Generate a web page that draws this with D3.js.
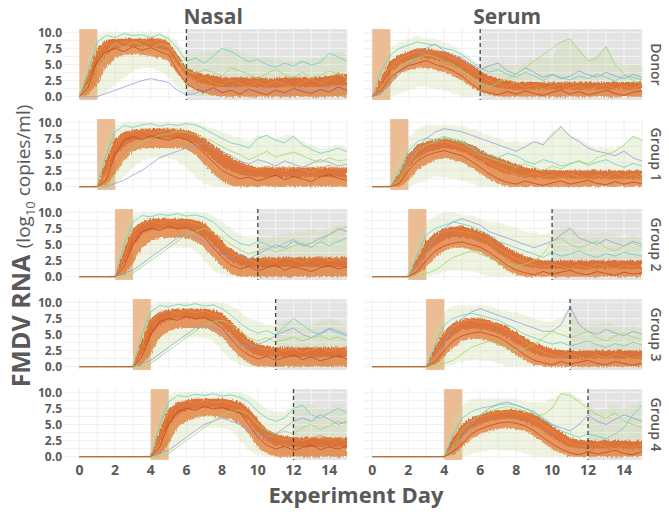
<!DOCTYPE html>
<html>
<head>
<meta charset="utf-8">
<script src="https://cdn.jsdelivr.net/npm/d3@7"></script>
<style>
  body { margin: 0; background: #fff; }
  text { font-family: "Open Sans", "DejaVu Sans", sans-serif; fill: #595959; }
</style>
</head>
<body>
<svg id="chart" width="669" height="512"></svg>
<script>
var samples = ["Nasal", "Serum"];
var groups = ["Donor", "Group 1", "Group 2", "Group 3", "Group 4"];
var onsetDay = [0, 1, 2, 3, 4];
var cutoffDay = [6, null, 10, 11, 12];
var xTicks = [0, 2, 4, 6, 8, 10, 12, 14];
var yTicks = [0, 2.5, 5, 7.5, 10];
var days = [0, 0.5, 1, 1.5, 2, 2.5, 3, 3.5, 4, 4.5, 5, 5.5, 6, 6.5, 7, 7.5, 8, 8.5, 9, 9.5, 10, 10.5, 11, 11.5, 12, 12.5, 13, 13.5, 14, 14.5, 15];

// outer spread of the trajectories (upper / lower edge), one row per group
var nasalHi = [
	[0.5,6,9.5,10,10,10,10,10,10,10,9.5,8.5,6.5,6.5,7,7,7.5,7.8,7,6.5,6,6,6,5.5,5.5,5.5,6,6,6.5,7,6.5],
	[0,0,0.5,8,9.5,10,10,10,10,10,10,10,10,10,9.5,9,8.5,8,7.5,7,8,8,7.5,8,8,7,6.5,6,6,6.5,6],
	[0,0,0,0,0.5,7,9.5,10,10,10,10,10,10,10,10,9.5,8.5,7.5,6.5,6,6,6,6.5,6.5,7,7,7.5,7,7.5,8,8],
	[0,0,0,0,0,0,0.5,7,9.5,10,10,10,10,10,10,10,10,9.5,8.5,7.5,7,6.5,6.5,7,7,6.5,6.5,7,7.5,7,6.5],
	[0,0,0,0,0,0,0,0,0.5,7,9.5,10,10,10,10,10,10,10,10,9.5,8.5,7.5,7,7,7.5,8,8,7.5,7.5,8,7.5]
];
var nasalLo = [
	[0,0,0,0.5,2,3,4,4.5,4.5,4,3,1.5,0.5,0,0,0,0,0,0,0,0,0,0,0,0,0,0,0,0,0,0],
	[0,0,0,0,0.3,1.5,3,4,4.5,4.5,4.5,4,3,1.5,0.5,0,0,0,0,0,0,0,0,0,0,0,0,0,0,0,0],
	[0,0,0,0,0,0,0.5,1.5,3,4,4.5,4.5,4.5,4,2.5,1,0.3,0,0,0,0,0,0,0,0,0,0,0,0,0,0],
	[0,0,0,0,0,0,0,0,0.5,1.5,3,4,4.5,4.5,4.5,4,2.5,1,0.3,0,0,0,0,0,0,0,0,0,0,0,0],
	[0,0,0,0,0,0,0,0,0,0,0.5,1.5,3,4,4.5,4.5,4.5,4,2.5,1,0.3,0,0,0,0,0,0,0,0,0,0]
];
// dense core band
var nasalCoreHi = [
	[0,3.5,7.5,8.8,9,9,9,9,9,9,8.6,6.5,4.5,3.8,3.5,3.2,3,3,3,3,3,2.8,2.8,3,3,3,3,3,3.2,3.5,3.5],
	[0,0,0,4,7.5,8.5,8.8,9,9,9,9,9,8.8,8.3,7.5,6.5,5.5,4.5,3.8,3.3,3,3,3,3,3,3,3,3,3,3,3],
	[0,0,0,0,0,4,7.5,8.5,9,9,9,9,9,8.8,8.3,7,5.5,4.2,3.5,3,3,3,3,3,3,3,3,3,3,3,3],
	[0,0,0,0,0,0,0,4,7.5,8.5,8.8,9,9,9,9,8.8,8.3,7,5.5,4.3,3.5,3.2,3,3,3,3,3,3,3,3,3],
	[0,0,0,0,0,0,0,0,0,4,7.5,8.5,8.8,9,9,9,9,8.8,8.5,7.5,5.8,4.3,3.5,3.2,3,3,3,3,3,3,3]
];
var nasalCoreLo = [
	[0,0.3,2,4.5,6,6.5,6.5,6.5,6.3,6,5.5,3.5,2,1,0.5,0.2,0,0,0,0,0,0,0,0,0,0,0,0,0,0,0],
	[0,0,0,0.2,2,4,5.5,6,6,6,6,6,5.8,5,3.5,2,0.8,0.2,0,0,0,0,0,0,0,0,0,0,0,0,0],
	[0,0,0,0,0,0.3,2,4.5,5.5,6,6,6,6,5.5,4.5,3,1.5,0.5,0,0,0,0,0,0,0,0,0,0,0,0,0],
	[0,0,0,0,0,0,0,0.3,2,4.5,5.5,6,6,6,6,5.5,4.5,3,1.5,0.5,0,0,0,0,0,0,0,0,0,0,0],
	[0,0,0,0,0,0,0,0,0,0.3,2,4.5,5.5,6,6.3,6.3,6,5.8,5,3.5,1.5,0.5,0,0,0,0,0,0,0,0,0]
];
var serumHi = [
	[0.5,5,7.5,8.5,9,9.5,9,9,8.5,8,7,6,5,5,5.5,5,5,5.5,6,6,6,8.5,9,7.5,6,6.5,8,5.5,5,5,5],
	[0,0,0.5,5,7.5,9,9.5,9.5,9.5,9.5,9.5,9,8.5,8,7.5,7,7,7,7,7,8.5,9.5,8,7.5,6.5,6,6,6,6.5,8,7.5],
	[0,0,0,0,0.5,6,8.5,9.5,10,10,9.5,9.5,9,8.5,8.5,8,7.5,7,7,6.5,7,7.5,8,7,6.5,6.5,7,6.5,6,6.5,6],
	[0,0,0,0,0,0,0.5,6,8.5,9.5,9.5,9.5,9.5,9.5,9,8.5,8.5,8,7.5,7,7,7.5,9.5,7,6.5,6.5,7,6.5,6,6.5,6],
	[0,0,0,0,0,0,0,0,0.5,6,8,9,9,9,9,9,9,8.5,8.5,8.5,9,10,10,9,8,7,7.5,8,7.5,8,8.5]
];
var serumLo = [
	[0,0,0,0.5,1,1.5,1.5,1.2,1,0.5,0,0,0,0,0,0,0,0,0,0,0,0,0,0,0,0,0,0,0,0,0],
	[0,0,0,0,0,0.5,1,1.5,1.5,1.2,1,0.5,0,0,0,0,0,0,0,0,0,0,0,0,0,0,0,0,0,0,0],
	[0,0,0,0,0,0,0,0.3,0.8,1,1,0.8,0.5,0,0,0,0,0,0,0,0,0,0,0,0,0,0,0,0,0,0],
	[0,0,0,0,0,0,0,0,0,0.3,0.8,1,1,0.8,0.5,0,0,0,0,0,0,0,0,0,0,0,0,0,0,0,0],
	[0,0,0,0,0,0,0,0,0,0,0,0.3,0.8,1,1,1,0.8,0.5,0,0,0,0,0,0,0,0,0,0,0,0,0]
];
var serumCoreHi = [
	[0,3,5.5,6.5,7,7.5,7.5,7.2,7,6.5,5.8,5,4,3.2,2.8,2.5,2.3,2.3,2.3,2.2,2.2,2.2,2.2,2.2,2.2,2.2,2.3,2.3,2.3,2.3,2.3],
	[0,0,0,2,5,6.5,7,7.3,7.5,7.3,7,6.5,5.8,5,4.5,4,3.5,3,2.8,2.6,2.5,2.5,2.5,2.5,2.5,2.5,2.5,2.5,2.5,2.5,2.5],
	[0,0,0,0,0,3,5.5,6.8,7.5,7.8,7.8,7.5,7,6.5,5.5,4.5,3.8,3.2,2.8,2.5,2.5,2.5,2.5,2.5,2.5,2.5,2.5,2.5,2.5,2.5,2.5],
	[0,0,0,0,0,0,0,3,5.5,6.8,7.3,7.5,7.5,7.2,6.8,6.2,5.3,4.5,3.7,3.2,2.8,2.6,2.5,2.5,2.5,2.5,2.5,2.5,2.5,2.5,2.5],
	[0,0,0,0,0,0,0,0,0,3,5,6,6.5,7,7.2,7.3,7.3,7,6.5,5.8,4.8,3.8,3,2.6,2.5,2.5,2.5,2.5,2.5,2.5,2.5]
];
var serumCoreLo = [
	[0,0.5,2,3.5,4.2,4.5,4.5,4.2,3.8,3.2,2.5,1.5,0.8,0.3,0,0,0,0,0,0,0,0,0,0,0,0,0,0,0,0,0],
	[0,0,0,0,1,2.5,3.5,4.2,4.5,4.2,3.8,3,2,1.2,0.5,0,0,0,0,0,0,0,0,0,0,0,0,0,0,0,0],
	[0,0,0,0,0,0.3,1.5,3,4,4.5,4.5,4.2,3.8,3,2,1,0.3,0,0,0,0,0,0,0,0,0,0,0,0,0,0],
	[0,0,0,0,0,0,0,0.3,1.5,3,4,4.3,4.3,4,3.5,2.8,1.8,1,0.3,0,0,0,0,0,0,0,0,0,0,0,0],
	[0,0,0,0,0,0,0,0,0,0.3,1.5,2.8,3.5,4,4.3,4.5,4.3,4,3.2,2.2,1.2,0.5,0,0,0,0,0,0,0,0,0]
];

// a few single trajectories
var nasalTraces = [
	[
		[0,0,0,0.5,1,1.5,2,2.5,2.8,2.5,2.2,1,0.3,0.5,1.2,1,0.8,1.5,1.2,0.8,1,1.3,0.9,0.5,1,1.2,0.8,1,1.5,1.1,0.8],
		[0,4,8.5,9.5,9.2,9.8,9.5,9.6,9.2,9.7,9,7.5,5.5,6,5.2,6.3,7.5,7,6.2,5.4,5.8,5,4.6,5.2,4.8,5.5,4.9,5.3,6.8,6.2,5.5],
		[0,3,7,8.3,7.8,8.6,8.1,8.8,8.4,8.9,8,5.8,3.5,2.5,3,2.2,1.8,2.6,2,1.5,2.3,1.7,2.4,1.9,1.5,2.2,2.8,2,2.6,3.8,2.5],
		[0,1.5,5.5,7,7.5,7,7.8,7.2,7.6,7,6.5,4,2,1.2,0.8,1.4,0.6,1,0.4,1.2,0.7,0.3,1,0.6,1.3,0.8,0.5,1.1,0.7,1.5,1],
		[0,2,5,7,8.3,7.6,8.5,8,7.4,8.2,7.8,6,4,3.5,4.2,3.8,3.2,4.5,4,3.5,2.8,3.6,4.2,3.4,3,3.8,2.9,3.3,4,3.5,3]
	],
	[
		[0,0,0,0,0.5,1,1.8,2.5,3.5,4.5,5,5.5,6,6.5,6.8,6,5.5,4.8,4,3.5,4.2,3.8,3.2,4,3.5,3,3.6,4.2,3.8,3.2,3.5],
		[0,0,0,5,8.5,9.5,9.2,9.6,9.8,9.4,9.7,9.5,9.8,9.6,9,8.2,7.5,6.8,6.5,6,7.5,8,7.2,6.8,7.8,6.5,5.8,5.2,5.5,6,5.4],
		[0,0,0,2.5,6.5,8,8.4,8.8,8.2,8.6,8.9,8.3,8.6,8,7,6,5,4.2,3.5,3,2.6,3.2,2.8,2.4,3,2.7,2.2,2.9,3.3,2.6,2.9],
		[0,0,0,1,5,7.2,7.8,7.3,7.9,7.5,7.2,7.7,7.3,6.5,5.2,3.8,2.5,1.8,1.2,1.5,0.9,1.3,1.8,1.1,1.6,1.2,0.8,1.5,1.9,1.3,1],
		[0,0,0,0,2,4.5,6,7,7.5,8,8.2,8.6,8.4,8,7.6,7,6.2,5.5,5,4.2,4.8,5.5,4.6,5,5.4,4.8,4.2,3.8,4.5,4,4.2]
	],
	[
		[0,0,0,0,0,0.5,1,2,3,4,5,6,6.5,6,5.5,4.5,3.5,3,3.5,2.8,3.5,4.2,5,4.5,5.5,4.8,5.2,6,6.5,7.5,7],
		[0,0,0,0,0,5,8.5,9.5,9.3,9.7,9.5,9.8,9.4,9.6,9.2,8.5,7.2,6,5.2,4.8,5.5,5,4.5,5.2,5.8,5,4.6,5.4,4.8,5.5,6],
		[0,0,0,0,0,3,7,8.2,8.7,8.2,8.8,8.4,8.6,8.2,7.8,6.5,5,3.8,3,2.6,2.2,2.8,2.4,3,2.6,2.2,2.8,3.2,2.5,2.8,2.4],
		[0,0,0,0,0,1.5,5,7,7.5,7.2,7.8,7.4,7.6,7,6.2,4.5,3,1.8,1.2,1.6,0.9,1.4,1.8,1,1.5,1.2,0.8,1.4,1.7,1.2,1.5],
		[0,0,0,0,0,0,0.5,1.5,2.5,3.5,4.5,5.5,6.5,7,7.5,7,6,5,4.2,3.5,4,4.5,3.8,4.2,4.8,5.2,4.5,5.5,6.5,7.2,7.8]
	],
	[
		[0,0,0,0,0,0,0,0.5,1,2,3,4,5,6,6.5,6,5.5,4.5,3.5,3,3.5,4,4.8,5.5,6,5,4.5,5.2,6,5.5,5],
		[0,0,0,0,0,0,0,5,8.5,9.5,9.3,9.7,9.5,9.8,9.4,9.6,9,8,6.8,5.8,5.2,5.6,5,6.2,7.5,6.5,5.5,5,5.8,5.2,4.8],
		[0,0,0,0,0,0,0,3,7,8.2,8.7,8.2,8.8,8.4,8.6,8.2,7.6,6.2,4.8,3.6,3,2.6,3,2.4,2.8,2.2,2.6,3,2.4,2.8,2.2],
		[0,0,0,0,0,0,0,1.5,5,7,7.5,7.2,7.8,7.4,7.6,7,6,4.3,2.8,1.8,1.2,1.6,1,1.4,1.8,1.1,1.5,0.9,1.3,1.7,1.2],
		[0,0,0,0,0,0,0,0,0.5,1.5,2.5,3.5,4.5,5.5,6.5,7,7.2,6.5,5.5,4.5,4,4.5,3.8,4.2,4.6,4,4.5,4.8,4.2,4.6,4]
	],
	[
		[0,0,0,0,0,0,0,0,0,0.5,1,2,3,4,5,5.5,6,5.5,5,4,3.5,3,3.5,4.5,5.5,6,5.5,6.5,5.8,5,5.5],
		[0,0,0,0,0,0,0,0,0,5,8.5,9.5,9.3,9.7,9.5,9.8,9.4,9.6,9.2,8.5,7,6,5.5,6,7.5,8,6.5,6,6.8,7.5,6.8],
		[0,0,0,0,0,0,0,0,0,3,7,8.2,8.7,8.2,8.8,8.4,8.6,8.2,7.8,6.6,4.8,3.5,3,2.6,3,2.5,2.9,3.3,2.6,3,2.4],
		[0,0,0,0,0,0,0,0,0,1.5,5,7,7.5,7.2,7.8,7.4,7.6,7.2,6.8,5,3,1.8,1.2,1.6,1,1.4,1.8,1.1,1.5,1.2,1.6],
		[0,0,0,0,0,0,0,0,0,0,0.5,1.5,2.5,3.5,4.5,5.5,6.5,7,7.2,6.5,5,4,3.5,4,3.5,4.5,5,4.2,4.8,5.5,5]
	]
];
var serumTraces = [
	[
		[0,0.5,2,3.5,5,6,7.5,8.2,7,6.5,6,5,4.2,4.8,5.2,4,3.5,4.5,3.8,3,3.5,2.8,3.2,4,3.4,3,3.8,3.2,2.8,3.5,3],
		[0,4,6.5,7.5,8,8.5,8.2,8,7.5,7.2,6.5,5.5,4.5,3.8,4.2,3.5,3,3.8,3.2,2.5,3.4,3,2.6,3.2,2.8,3.5,3,2.4,3.3,3,2.6],
		[0,2.5,4.5,5.8,6.5,7,6.6,7.2,6.5,6,5.2,4.5,3.2,2.5,2,1.6,2.2,1.4,1.8,1.2,1.6,2,1.3,1.7,1.1,1.5,1.9,1.2,1.6,1.3,1.8],
		[0,1,3,4,4.8,5.2,5.6,5,4.6,4,3.2,2,1,0.6,0.3,0.8,0.4,0.9,0.5,0.2,0.7,1,0.4,0.8,0.3,0.6,1,0.5,0.2,0.7,0.9],
		[0,1,3,4.5,5.5,6,6.5,6.2,5.5,5,4,3,2,1.5,2.2,2.8,3.5,4.5,5.5,6.5,7.5,8.5,9,7.2,5.5,6,7.8,5,3.5,2.5,2]
	],
	[
		[0,0,0,1.5,4,6,7.5,8.5,9,8.8,8.5,8,7.5,7,6.5,6,5.5,6.2,7,6.5,8,9.3,7.8,7,6,5.5,5.2,4.8,5.5,4.5,4],
		[0,0,0,2.5,5.5,7,7.5,7.2,7.8,7.4,7,6.2,5.5,5,4.5,5.2,4.8,4,3.5,4.2,3.8,3.2,3.6,4,3.3,3.8,4.2,3.5,3,3.6,3.2],
		[0,0,0,1.5,4.5,6,6.5,6.8,7,6.6,6.2,5.5,4.6,3.8,3,2.5,2,1.6,2.2,1.5,1.8,1.3,2,1.6,1.2,1.8,1.4,2.2,1.6,1.9,1.4],
		[0,0,0,0.5,2.5,4,4.8,5.3,5.6,5.2,4.8,4,3,2,1.2,0.7,0.4,0.9,0.5,0.2,0.6,0.9,0.4,0.7,1,0.5,0.3,0.8,0.4,0.7,0.5],
		[0,0,0,1,3.5,5.5,6.5,7,7.5,7.2,6.8,6,5,4.5,4,3.5,3,3.6,3,2.5,3.2,2.8,3.5,4,3.5,4.5,5,5.5,6.5,7.8,7.2]
	],
	[
		[0,0,0,0,0,1.5,4,6,7.5,8.5,9,8.5,8,7,6.5,6,5.5,5,4.5,5,5.5,6.5,7.5,6,5.5,5,5.8,5.2,4.8,5.5,5],
		[0,0,0,0,0,3.5,6.5,7.5,8,8.5,8.2,7.8,7.2,6.5,5.5,5,4.5,4,3.5,3,3.8,3.2,3.5,4,3.4,3,3.6,3.2,3.8,3.5,3.2],
		[0,0,0,0,0,2,5,6.2,7,7.2,7,6.8,6.3,5.5,4.5,3.6,2.8,2.2,1.8,1.5,2,1.6,1.2,1.8,1.4,2,1.6,1.2,1.8,1.5,1.9],
		[0,0,0,0,0,0.8,2.5,4,4.8,5.2,5.4,5,4.6,3.8,2.8,1.8,1,0.6,0.3,0.8,0.4,0.7,1,0.5,0.3,0.8,0.5,0.2,0.7,0.4,0.6],
		[0,0,0,0,0,0,0.5,1,2,3,3.5,4,3.5,3,2.5,2,1.5,2,2.5,3.5,5.5,6,5,4.5,5,5.5,4.5,4,4.8,5.2,4.6]
	],
	[
		[0,0,0,0,0,0,0,1.5,4,6,7.5,8.5,9,8.5,8,7.5,7,6.5,6,5.5,5.5,6.5,9.3,6.5,5.5,5,5.8,5.2,4.8,5.5,5],
		[0,0,0,0,0,0,0,3.5,6.5,7.5,8,8.3,8,7.6,7.2,6.5,5.8,5,4.5,4,3.5,3.8,3.2,3.6,4,3.4,3,3.6,3.2,3.8,3.4],
		[0,0,0,0,0,0,0,2,5,6.2,7,7.2,7,6.8,6.4,5.8,4.8,3.8,3,2.3,1.8,1.5,2,1.6,1.2,1.8,1.4,2,1.6,1.2,1.7],
		[0,0,0,0,0,0,0,0.8,2.5,4,4.8,5.2,5.4,5,4.6,3.8,2.8,1.8,1,0.6,0.3,0.8,0.4,0.7,1,0.5,0.3,0.8,0.5,0.2,0.6],
		[0,0,0,0,0,0,0,0,0.5,1,2,3,3.5,4,3.5,3,2.5,2.8,3.5,4.5,5.5,5,4.5,5,5.5,4.5,4,4.8,5.2,4.6,4.2]
	],
	[
		[0,0,0,0,0,0,0,0,0,1,3,5,6.5,7.5,8.2,8.5,8,7.5,7,6,5,4.5,4,5,6.5,5.5,5,5.8,6.5,6,5.5],
		[0,0,0,0,0,0,0,0,0,3.5,6,7,7.5,7.8,8,8.2,8,7.5,6.8,5.8,5,4,3.5,3,3.5,3.2,2.8,3.5,4.5,6.5,8],
		[0,0,0,0,0,0,0,0,0,2,4.5,5.5,6.2,6.5,6.8,7,6.8,6.5,5.8,5,4,3,2.2,1.8,1.5,2,1.6,1.2,1.8,1.5,1.9],
		[0,0,0,0,0,0,0,0,0,0.8,2,3.5,4.3,4.8,5.2,5.4,5.2,4.8,4,3,2,1.2,0.6,0.3,0.8,0.4,0.7,1,0.5,0.3,0.8],
		[0,0,0,0,0,0,0,0,0,1.5,4,5.5,6.5,7,7.5,7.8,7.5,7,6.5,6.5,7.5,9.8,9.5,8.5,7.5,6.5,6,6.8,5.5,5,4.5]
	]
];

var traceColors = ["#8c9be0", "#5fcfc4", "#ef8f3a", "#c8401a", "#98d86a"];
var traceOrder = [0, 1, 4, 2, 3];   // red last, it sits on top like the reference

var svg = d3.select("#chart");
var defs = svg.append("defs");

// rough the band edges a little so they read like many overlapping lines
var filter = defs.append("filter").attr("id", "rough")
	.attr("x", "-5%").attr("y", "-10%").attr("width", "110%").attr("height", "120%");
filter.append("feTurbulence").attr("type", "fractalNoise")
	.attr("baseFrequency", "0.6 0.25").attr("numOctaves", 2).attr("seed", 3).attr("result", "n");
filter.append("feDisplacementMap").attr("in", "SourceGraphic").attr("in2", "n")
	.attr("scale", 4).attr("xChannelSelector", "R").attr("yChannelSelector", "G");

var colX0 = [79.4, 372.3], colX1 = [347, 642], colPad = [16, 8];
var rowTop0 = 32.3, rowStep = 90, panelH = 64.4;

var allHi = [nasalHi, serumHi], allLo = [nasalLo, serumLo];
var allCoreHi = [nasalCoreHi, serumCoreHi], allCoreLo = [nasalCoreLo, serumCoreLo];
var allTraces = [nasalTraces, serumTraces];

samples.forEach(function(sample, c) {
	groups.forEach(function(group, r) {
		var top = rowTop0 + r * rowStep;
		var x = d3.scaleLinear().domain([0, 15]).range([colX0[c], colX1[c]]);
		var y = d3.scaleLinear().domain([0, 10]).range([top + panelH, top]);
		var left = colX0[c] - colPad[c], right = x(15);
		var pTop = y(10.5), pBot = y(-0.5);
		var g = svg.append("g");
		var id = "clip" + c + r;
		defs.append("clipPath").attr("id", id).append("rect")
			.attr("x", left).attr("y", pTop).attr("width", right - left).attr("height", pBot - pTop);

		var hLines = d3.range(0, 10.01, 1.25), vLines = d3.range(0, 15.01, 1);
		function grid(sel, x0, stroke) {
			sel.selectAll(".h").data(hLines).enter().append("line")
				.attr("x1", x0).attr("x2", right).attr("y1", y).attr("y2", y)
				.attr("stroke", stroke).attr("stroke-width", 0.8);
			sel.selectAll(".v").data(vLines.filter(function(d) { return x(d) >= x0; })).enter().append("line")
				.attr("x1", x).attr("x2", x).attr("y1", pTop).attr("y2", pBot)
				.attr("stroke", stroke).attr("stroke-width", 0.8);
		}
		grid(g.append("g"), left, "#ececec");

		var cut = cutoffDay[r];
		if (cut !== null) {
			g.append("rect").attr("x", x(cut)).attr("y", pTop)
				.attr("width", right - x(cut)).attr("height", pBot - pTop).attr("fill", "#e3e3e3");
			grid(g.append("g"), x(cut), "#f7f7f7");
		}

		g.append("rect").attr("x", x(onsetDay[r])).attr("y", pTop)
			.attr("width", x(onsetDay[r] + 1) - x(onsetDay[r])).attr("height", pBot - pTop)
			.attr("fill", "#e9b083").attr("opacity", 0.85);

		var body = g.append("g").attr("clip-path", "url(#" + id + ")");
		var hi = allHi[c][r], lo = allLo[c][r], cHi = allCoreHi[c][r], cLo = allCoreLo[c][r];
		var band = function(a, b) {
			return d3.area().x(function(d, i) { return x(days[i]); })
				.y0(function(d, i) { return y(a[i]); }).y1(function(d, i) { return y(b[i]); })(days);
		};
		var rough = body.append("g").attr("filter", "url(#rough)");
		rough.append("path").attr("d", band(lo, hi)).attr("fill", "#c9d89a").attr("opacity", 0.3);
		rough.append("path").attr("d", band(cLo, cHi)).attr("fill", "#e07a34").attr("opacity", 0.75);
		rough.append("path").attr("d", band(cLo.map(function(v, i) { return (v + cHi[i]) / 2; }), cHi))
			.attr("fill", "#cf4d18").attr("opacity", 0.45);

		var line = d3.line().x(function(d, i) { return x(days[i]); }).y(function(d) { return y(d); });
		var traces = allTraces[c][r];
		body.selectAll(".trace").data(traceOrder).enter().append("path")
			.attr("d", function(k) { return line(traces[k]); }).attr("fill", "none")
			.attr("stroke", function(k) { return traceColors[k]; })
			.attr("stroke-width", 1).attr("opacity", 0.75);

		if (cut !== null) {
			g.append("line").attr("x1", x(cut)).attr("x2", x(cut)).attr("y1", pTop).attr("y2", pBot)
				.attr("stroke", "#444").attr("stroke-width", 1.3).attr("stroke-dasharray", "4,3");
		}

		if (c === 0) {
			g.selectAll(".yt").data(yTicks).enter().append("text")
				.attr("x", 62).attr("y", y).attr("dy", "0.36em").attr("text-anchor", "end")
				.style("font-size", "12px").style("font-weight", "bold")
				.text(function(d) { return d.toFixed(1); });
		}
		if (r === groups.length - 1) {
			g.selectAll(".xt").data(xTicks).enter().append("text")
				.attr("x", x).attr("y", 475).attr("text-anchor", "middle")
				.style("font-size", "14px").style("font-weight", "bold")
				.text(function(d) { return d; });
		}
		if (c === 1) {
			var cy = (pTop + pBot) / 2;
			g.append("text").attr("transform", "translate(656," + cy + ") rotate(90)")
				.attr("text-anchor", "middle").attr("dy", "0.35em")
				.style("font-size", "14px").style("font-weight", "600").text(group);
		}
		if (r === 0) {
			g.append("text").attr("x", (colX0[c] + colX1[c]) / 2).attr("y", 24)
				.attr("text-anchor", "middle").style("font-size", "21px").style("font-weight", "bold")
				.text(sample);
		}
	});
});

svg.append("text").attr("x", 356).attr("y", 503).attr("text-anchor", "middle")
	.style("font-size", "22px").style("font-weight", "bold").text("Experiment Day");

var yt = svg.append("text").attr("transform", "translate(30,246) rotate(-90)").attr("text-anchor", "middle");
yt.append("tspan").style("font-size", "25px").style("font-weight", "bold").text("FMDV RNA ");
yt.append("tspan").style("font-size", "19px").text("(log");
yt.append("tspan").style("font-size", "13px").attr("dy", 5).text("10");
yt.append("tspan").style("font-size", "19px").attr("dy", -5).text(" copies/ml)");
</script>
</body>
</html>
